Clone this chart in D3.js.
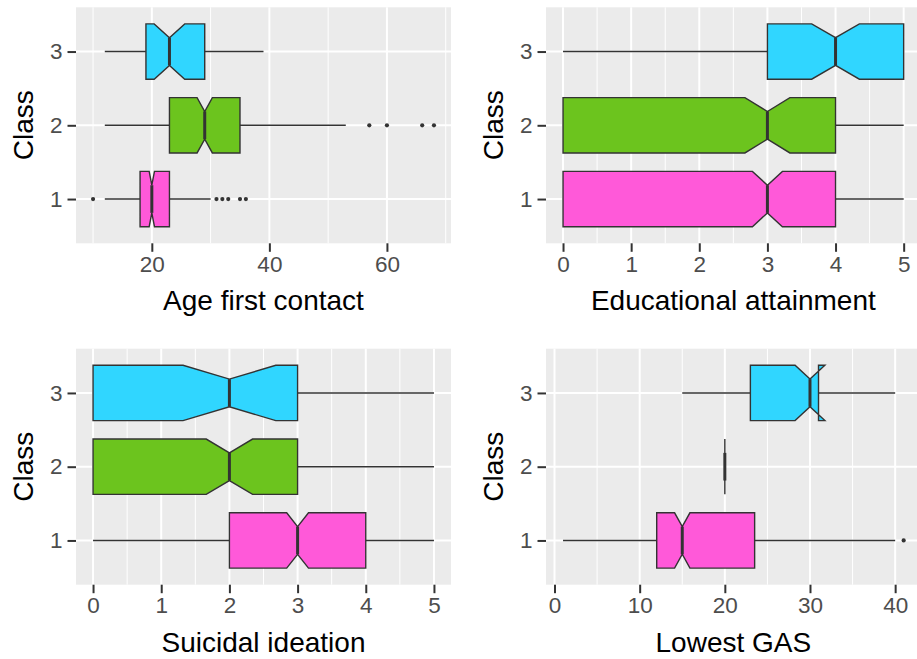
<!DOCTYPE html>
<html>
<head>
<meta charset="utf-8">
<script src="https://cdn.jsdelivr.net/npm/d3@7"></script>
<style>
  html, body { margin: 0; padding: 0; background: #ffffff; }
  svg { display: block; }
  text { font-family: "Liberation Sans", Arial, sans-serif; }
</style>
</head>
<body>
<svg id="chart" width="917" height="659"></svg>
<script>
// Latent classes, drawn bottom (1) to top (3)
const classes = ["1", "2", "3"];
const classColors = ["#FF59D9", "#6CC41E", "#30D6FF"];

// Box statistics per class: [lower whisker, Q1, median, Q3, upper whisker]
const ageStats  = [[12, 18, 20, 23, 30], [12, 23, 29, 35, 53], [12, 19, 23, 29, 39]];
const ageNotch  = [[19.55, 20.45], [27.7, 30.3], [20.4, 25.6]];
const ageOut    = [[10, 31, 32, 33, 35, 36], [57, 60, 66, 68], []];
const ageTicks  = [20, 40, 60];
const ageMinor  = [10, 30, 50, 70];

const eduStats  = [[0, 0, 3, 4, 5], [0, 0, 3, 4, 5], [0, 3, 4, 5, 5]];
const eduNotch  = [[2.78, 3.22], [2.67, 3.33], [3.65, 4.35]];
const eduOut    = [[], [], []];
const eduTicks  = [0, 1, 2, 3, 4, 5];
const eduMinor  = [0.5, 1.5, 2.5, 3.5, 4.5];

const suiStats  = [[0, 2, 3, 4, 5], [0, 0, 2, 3, 5], [0, 0, 2, 3, 5]];
const suiNotch  = [[2.84, 3.16], [1.66, 2.34], [1.32, 2.68]];
const suiOut    = [[], [], []];
const suiTicks  = [0, 1, 2, 3, 4, 5];
const suiMinor  = [0.5, 1.5, 2.5, 3.5, 4.5];

const gasStats  = [[1, 12, 15, 23.5, 40], [20, 20, 20, 20, 20], [15, 23, 30, 31, 40]];
const gasNotch  = [[14.1, 15.9], [20, 20], [28.25, 31.75]];
const gasOut    = [[41], [], []];
const gasTicks  = [0, 10, 20, 30, 40];
const gasMinor  = [5, 15, 25, 35];

const panels = [
  { title: "Age first contact",      stats: ageStats, notch: ageNotch, out: ageOut, ticks: ageTicks, minor: ageMinor, x0: 76,  x1: 451,   y0: 7.3,   y1: 243.3 },
  { title: "Educational attainment", stats: eduStats, notch: eduNotch, out: eduOut, ticks: eduTicks, minor: eduMinor, x0: 546, x1: 920.7, y0: 7.3,   y1: 243.3 },
  { title: "Suicidal ideation",      stats: suiStats, notch: suiNotch, out: suiOut, ticks: suiTicks, minor: suiMinor, x0: 76,  x1: 451,   y0: 348.7, y1: 584.7 },
  { title: "Lowest GAS",             stats: gasStats, notch: gasNotch, out: gasOut, ticks: gasTicks, minor: gasMinor, x0: 546, x1: 920.7, y0: 348.7, y1: 584.7 }
];

const svg = d3.select("#chart");
const ink = "#333333";
const tickFont = 22.5;
const titleFont = 28;
const boxWidth = 0.75;    // in class units
const notchWidth = 0.5;

panels.forEach(p => {
  // data range from whiskers and outliers, padded 5% each side
  const vals = [];
  p.stats.forEach((s, i) => { vals.push(s[0], s[4]); p.out[i].forEach(v => vals.push(v)); });
  const [lo, hi] = d3.extent(vals);
  const pad = (hi - lo) * 0.05;
  const x = d3.scaleLinear().domain([lo - pad, hi + pad]).range([p.x0, p.x1]);
  const y = d3.scalePoint().domain(classes.slice().reverse()).range([p.y0, p.y1]).padding(0.6);
  const step = y.step();

  const g = svg.append("g");

  // panel background and grid
  g.append("rect").attr("x", p.x0).attr("y", p.y0)
    .attr("width", p.x1 - p.x0).attr("height", p.y1 - p.y0).attr("fill", "#EBEBEB");
  g.selectAll("line.minor").data(p.minor).join("line")
    .attr("x1", d => x(d)).attr("x2", d => x(d)).attr("y1", p.y0).attr("y2", p.y1)
    .attr("stroke", "#ffffff").attr("stroke-width", 1);
  g.selectAll("line.majx").data(p.ticks).join("line")
    .attr("x1", d => x(d)).attr("x2", d => x(d)).attr("y1", p.y0).attr("y2", p.y1)
    .attr("stroke", "#ffffff").attr("stroke-width", 2);
  g.selectAll("line.majy").data(classes).join("line")
    .attr("x1", p.x0).attr("x2", p.x1).attr("y1", d => y(d)).attr("y2", d => y(d))
    .attr("stroke", "#ffffff").attr("stroke-width", 2);

  // boxes
  classes.forEach((c, i) => {
    const [wl, q1, med, q3, wh] = p.stats[i];
    const [nl, nu] = p.notch[i];
    const cy = y(c);
    const half = boxWidth * step / 2;
    const top = cy - half, bot = cy + half;
    const indent = (1 - notchWidth) * half;

    // outliers
    g.selectAll(null).data(p.out[i]).join("circle")
      .attr("cx", d => x(d)).attr("cy", cy).attr("r", 2.1).attr("fill", ink);

    // whiskers
    g.append("line").attr("x1", x(wl)).attr("x2", x(q1)).attr("y1", cy).attr("y2", cy)
      .attr("stroke", ink).attr("stroke-width", 1.4);
    g.append("line").attr("x1", x(q3)).attr("x2", x(wh)).attr("y1", cy).attr("y2", cy)
      .attr("stroke", ink).attr("stroke-width", 1.4);

    // notched box outline
    const pts = [
      [x(q3), top], [x(nu), top], [x(med), top + indent], [x(nl), top], [x(q1), top],
      [x(q1), bot], [x(nl), bot], [x(med), bot - indent], [x(nu), bot], [x(q3), bot]
    ];
    g.append("path").attr("d", d3.line()(pts) + "Z")
      .attr("fill", classColors[i]).attr("stroke", ink).attr("stroke-width", 1.4)
      .attr("stroke-linejoin", "miter");

    // median
    g.append("line").attr("x1", x(med)).attr("x2", x(med))
      .attr("y1", top + indent).attr("y2", bot - indent)
      .attr("stroke", ink).attr("stroke-width", 3);
  });

  // axes
  const ax = g.append("g").attr("transform", `translate(0,${p.y1})`)
    .call(d3.axisBottom(x).tickValues(p.ticks).tickSize(8.5).tickPadding(4).tickFormat(d3.format("d")));
  const ay = g.append("g").attr("transform", `translate(${p.x0},0)`)
    .call(d3.axisLeft(y).tickSize(8.5).tickPadding(5));
  [ax, ay].forEach(a => {
    a.select(".domain").remove();
    a.selectAll(".tick line").attr("stroke", ink).attr("stroke-width", 2);
    a.selectAll(".tick text").attr("fill", "#4D4D4D")
      .style("font-size", tickFont + "px").style("font-family", "'Liberation Sans', Arial, sans-serif");
  });

  // titles
  g.append("text").attr("x", (p.x0 + p.x1) / 2).attr("y", p.y1 + 67)
    .attr("text-anchor", "middle").attr("fill", "#000")
    .style("font-size", titleFont + "px").text(p.title);
  g.append("text")
    .attr("transform", `translate(${p.x0 - 43},${(p.y0 + p.y1) / 2}) rotate(-90)`)
    .attr("text-anchor", "middle").attr("fill", "#000")
    .style("font-size", titleFont + "px").text("Class");
});
</script>
</body>
</html>
